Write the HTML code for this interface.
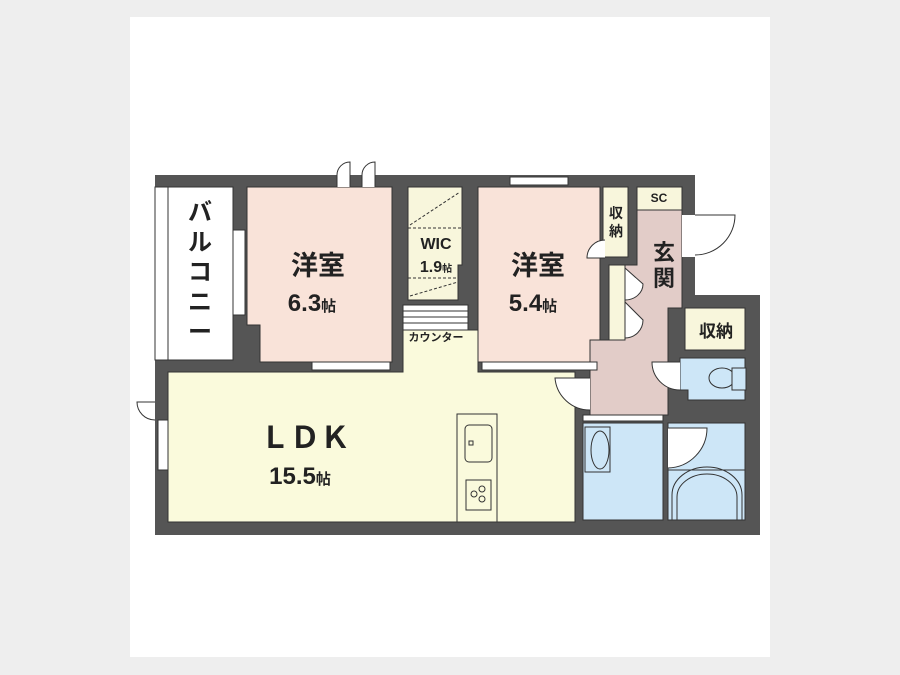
<!DOCTYPE html>
<html><head><meta charset="utf-8"><style>
html,body{margin:0;padding:0;background:#eee;}
svg{display:block}
text{font-family:"Liberation Sans","Noto Sans CJK JP",sans-serif;fill:#222;font-weight:bold}
</style></head><body>
<svg width="900" height="675" viewBox="0 0 900 675" xmlns="http://www.w3.org/2000/svg">
<rect x="0" y="0" width="900" height="675" fill="#eeeeee"/>
<rect x="130" y="17" width="640" height="640" fill="#ffffff"/>
<path d="M155 175 H695 V295 H760 V535 H155 Z" fill="#555555"/>
<rect x="155" y="187" width="78" height="173" fill="#ffffff" stroke="#333" stroke-width="1"/>
<line x1="168" y1="187" x2="168" y2="360" stroke="#333" stroke-width="1"/>
<path d="M247 187 H392 V362 H260 V325 H247 Z" fill="#f9e3d9" stroke="#333" stroke-width="1"/>
<path d="M408 187 H462 V265 H458 V300 H408 Z" fill="#f8f6dc" stroke="#333" stroke-width="1"/>
<line x1="408" y1="228" x2="462" y2="228" stroke="#333" stroke-dasharray="3,2"/>
<line x1="408" y1="278" x2="458" y2="278" stroke="#333" stroke-dasharray="3,2"/>
<line x1="410" y1="225" x2="460" y2="192" stroke="#333" stroke-dasharray="3,2"/>
<line x1="410" y1="296" x2="458" y2="282" stroke="#333" stroke-dasharray="3,2"/>
<path d="M168 372 H403 V330 H478 V372 H575 V522 H168 Z" fill="#fafadc" stroke="#333" stroke-width="1"/>
<rect x="403" y="305" width="65" height="25" fill="#fff" stroke="#333"/>
<line x1="403" y1="311" x2="468" y2="311" stroke="#333"/>
<line x1="403" y1="317" x2="468" y2="317" stroke="#333"/>
<line x1="403" y1="323" x2="468" y2="323" stroke="#333"/>
<rect x="478" y="187" width="122" height="175" fill="#f9e3d9" stroke="#333" stroke-width="1"/>
<rect x="603" y="187" width="25" height="70" fill="#f8f6dc" stroke="#333"/>
<path d="M637 210 H682 V308 H668 V415 H590 V340 H612 V265 H637 Z" fill="#e2ccc8" stroke="#333" stroke-width="1"/>
<rect x="609" y="265" width="16" height="75" fill="#f8f6dc" stroke="#333"/>
<path d="M625 268 V300 A18 16 0 0 0 643 284 Z" fill="#fff" stroke="#333"/>
<path d="M625 302 V338 A18 18 0 0 0 643 320 Z" fill="#fff" stroke="#333"/>
<rect x="637" y="187" width="45" height="23" fill="#f8f6dc" stroke="#333"/>
<rect x="682" y="215" width="13" height="42" fill="#fff"/>
<path d="M695 215 H735 A40 40 0 0 1 695 255" fill="#fff" stroke="#333"/>
<rect x="685" y="308" width="60" height="42" fill="#f8f6dc" stroke="#333"/>
<path d="M680 358 H745 V400 H688 V390 H680 Z" fill="#cde6f7" stroke="#333"/>
<ellipse cx="722" cy="378" rx="13" ry="10" fill="#cde6f7" stroke="#333"/>
<rect x="732" y="368" width="14" height="22" fill="#cde6f7" stroke="#333"/>
<rect x="583" y="423" width="80" height="97" fill="#cde6f7" stroke="#333"/>
<rect x="585" y="427" width="25" height="45" fill="#cde6f7" stroke="#333"/>
<ellipse cx="600" cy="450" rx="9" ry="19" fill="none" stroke="#333"/>
<rect x="668" y="423" width="77" height="97" fill="#cde6f7" stroke="#333"/>
<line x1="668" y1="470" x2="745" y2="470" stroke="#333"/>
<path d="M672 520 V495 A35 28 0 0 1 742 495 V520" fill="none" stroke="#333"/>
<path d="M677 520 V497 A30 23 0 0 1 737 497 V520" fill="none" stroke="#333"/>
<path d="M668 428 H707 A40 40 0 0 1 668 468" fill="#fff" stroke="#333"/>
<path d="M590 378 H555 A35 35 0 0 0 590 410" fill="#fff" stroke="#333"/>
<path d="M680 362 H652 A28 28 0 0 0 680 390" fill="#fff" stroke="#333"/>
<path d="M605 240 A18 18 0 0 0 587 258 H605" fill="#fff" stroke="#333"/>
<rect x="312" y="362" width="78" height="8" fill="#fff" stroke="#333"/>
<rect x="482" y="362" width="115" height="8" fill="#fff" stroke="#333"/>
<rect x="510" y="177" width="58" height="8" fill="#fff" stroke="#333"/>
<rect x="233" y="230" width="12" height="85" fill="#fff" stroke="#333"/>
<rect x="158" y="420" width="10" height="50" fill="#fff" stroke="#333"/>
<path d="M155 402 H137 A18 18 0 0 0 155 420" fill="#fff" stroke="#333"/>
<rect x="583" y="415" width="80" height="6" fill="#fff" stroke="#333"/>
<path d="M337 187 V175 A13 13 0 0 1 350 162 V187" fill="#fff" stroke="#333"/>
<path d="M362 187 V175 A13 13 0 0 1 375 162 V187" fill="#fff" stroke="#333"/>
<rect x="457" y="414" width="40" height="108" fill="#fafadc" stroke="#333"/>
<rect x="465" y="425" width="27" height="37" rx="4" fill="#fafadc" stroke="#333"/>
<rect x="469" y="441" width="4" height="4" fill="none" stroke="#333"/>
<rect x="466" y="480" width="25" height="30" fill="#fafadc" stroke="#333"/>
<circle cx="474" cy="494" r="3" fill="none" stroke="#333"/>
<circle cx="482" cy="489" r="3" fill="none" stroke="#333"/>
<circle cx="482" cy="499" r="3" fill="none" stroke="#333"/>
<text x="200" y="220" font-size="24" text-anchor="middle">バ</text>
<text x="200" y="250" font-size="24" text-anchor="middle">ル</text>
<text x="200" y="280" font-size="24" text-anchor="middle">コ</text>
<text x="200" y="310" font-size="24" text-anchor="middle">ニ</text>
<text x="200" y="340" font-size="24" text-anchor="middle">ー</text>
<text x="318" y="275" font-size="27" text-anchor="middle">洋室</text>
<text x="312" y="311" font-size="24" text-anchor="middle">6.3<tspan font-size="15">帖</tspan></text>
<text x="436" y="249" font-size="16" text-anchor="middle">WIC</text>
<text x="436" y="272" font-size="16" text-anchor="middle">1.9<tspan font-size="10">帖</tspan></text>
<text x="436" y="341" font-size="11" text-anchor="middle" font-weight="normal">カウンター</text>
<text x="538" y="275" font-size="27" text-anchor="middle">洋室</text>
<text x="533" y="311" font-size="24" text-anchor="middle">5.4<tspan font-size="15">帖</tspan></text>
<text x="616" y="218" font-size="14" text-anchor="middle">収</text>
<text x="616" y="236" font-size="14" text-anchor="middle">納</text>
<text x="659" y="202" font-size="12" text-anchor="middle">SC</text>
<text x="664" y="260" font-size="22" text-anchor="middle">玄</text>
<text x="664" y="286" font-size="22" text-anchor="middle">関</text>
<text x="716" y="337" font-size="17" text-anchor="middle">収納</text>
<text x="305" y="448" font-size="30" text-anchor="middle" font-weight="normal">ＬＤＫ</text>
<text x="300" y="484" font-size="24" text-anchor="middle">15.5<tspan font-size="15">帖</tspan></text>
</svg>
</body></html>
